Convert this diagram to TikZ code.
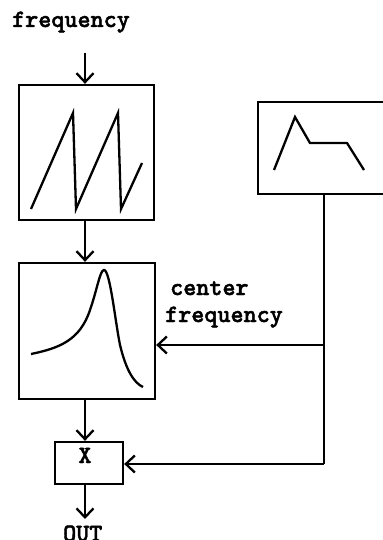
\documentclass[tikz,border=0pt]{standalone}
\usepackage{fontspec}
\newfontfamily\courfont{lmmonolt10-bold.otf}[FakeBold=1.8]
\usetikzlibrary{arrows.meta}
\begin{document}
\begin{tikzpicture}[x=1bp,y=-1bp,
  line width=2.3bp,
  lbl/.style={font=\courfont\fontsize{25}{29}\selectfont,inner sep=0pt},
  arr/.style={-{Straight Barb[length=9bp,width=17bp,line width=2.3bp]}},
  wave/.style={line width=2.3bp,line join=miter}]
\useasboundingbox (0,0) rectangle (382,540);
\fill[white] (0,0) rectangle (382,540);
% labels
\node[lbl,anchor=base west] (fin) at (11,27) {frequency};
% boxes
\node[draw,minimum width=135bp,minimum height=135bp,inner sep=0pt] (osc) at (86.5,152.5) {};
\node[draw,minimum width=136bp,minimum height=136bp,inner sep=0pt] (flt) at (87,331) {};
\node[draw,minimum width=130bp,minimum height=92bp,inner sep=0pt,anchor=north west] (env) at (257,101) {};
\node[draw,minimum width=68bp,minimum height=42bp,inner sep=0pt] (mul) at (89,463) {};
\node[lbl,anchor=base] (xl) at (85,463) {X};
\node[lbl,anchor=base west] (c1) at (169,295) {center};
\node[lbl,anchor=base west] (c2) at (164,322) {frequency};
\node[lbl,anchor=base west] (out) at (62,541) {OUT};
% waveforms
\draw[wave] (31,209) -- (73,113) -- (76,209) -- (118,113) -- (121,209) -- (142,163);
\draw[wave] (31,354) .. controls (60,348) and (80,340) .. (90,310)
  .. controls (97,290) and (100,270) .. (104,270)
  .. controls (110,270) and (115,320) .. (120,345)
  .. controls (126,370) and (134,383) .. (143,387);
\draw[wave] (274,170) -- (295,117) -- (310,143) -- (347,143) -- (364,170);
% connectors
\coordinate (fintop) at (85,53);
\coordinate (j1) at (324,345);
\coordinate (j2) at (324,464);
\draw[arr] (fintop) -- (fintop |- osc.north);
\draw[arr] (osc.south -| fintop) -- (flt.north -| fintop);
\draw[arr] (flt.south -| fintop) -- (mul.north -| fintop);
\draw[arr] (mul.south -| fintop) -- (85,519);
\draw (env.south -| j1) -- (j2);
\draw[arr] (j1) -- (flt.east |- j1);
\draw[arr] (j2) -- (mul.east |- j2);
\end{tikzpicture}
\end{document}
